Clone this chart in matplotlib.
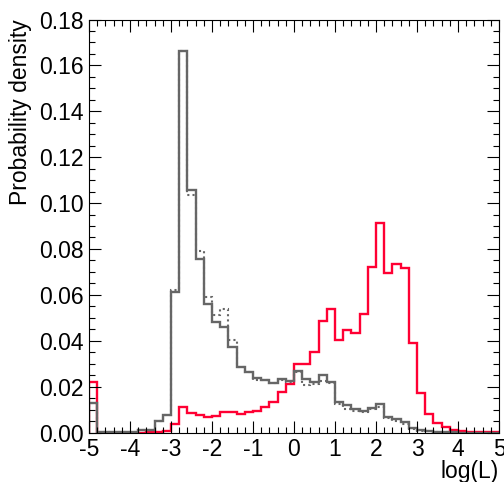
import numpy as np
import matplotlib
matplotlib.use("Agg")
import matplotlib.pyplot as plt
from matplotlib.ticker import MultipleLocator, FormatStrFormatter

plt.rcParams['font.family'] = ['Liberation Sans', 'DejaVu Sans']
plt.rcParams['axes.unicode_minus'] = False

# histogram: 50 bins of width 0.2 between log(L) = -5 and 5
x_min, x_max, n_bins = -5.0, 5.0, 50

# grey solid histogram
grey_solid = [
    0.0127, 0.0002, 0.0002, 0.0002, 0.0002, 0.0003, 0.0010, 0.0011, 0.0049, 0.0078,
    0.0614, 0.1663, 0.1057, 0.0756, 0.0559, 0.0483, 0.0458, 0.0371, 0.0287, 0.0265,
    0.0236, 0.0230, 0.0214, 0.0232, 0.0224, 0.0268, 0.0234, 0.0220, 0.0251, 0.0222,
    0.0134, 0.0120, 0.0101, 0.0094, 0.0105, 0.0124, 0.0066, 0.0057, 0.0047, 0.0021,
    0.0011, 0.0006, 0.0004, 0.0002, 0.0001, 0.0, 0.0, 0.0, 0.0, 0.0,
]

# grey dotted histogram
grey_dotted = [
    0.0127, 0.0002, 0.0002, 0.0002, 0.0002, 0.0003, 0.0010, 0.0011, 0.0049, 0.0078,
    0.0619, 0.1663, 0.1035, 0.0791, 0.0589, 0.0512, 0.0537, 0.0403, 0.0285, 0.0265,
    0.0227, 0.0227, 0.0217, 0.0227, 0.0220, 0.0262, 0.0205, 0.0210, 0.0224, 0.0215,
    0.0124, 0.0101, 0.0095, 0.0091, 0.0101, 0.0113, 0.0062, 0.0052, 0.0035, 0.0015,
    0.0008, 0.0005, 0.0003, 0.0002, 0.0001, 0.0, 0.0, 0.0, 0.0, 0.0,
]

# red histogram
red = [
    0.0221, 0.0, 0.0, 0.0, 0.0, 0.0, 0.0, 0.0002, 0.0004, 0.0005,
    0.0036, 0.0110, 0.0086, 0.0078, 0.0069, 0.0073, 0.0089, 0.0089, 0.0081, 0.0089,
    0.0095, 0.0112, 0.0131, 0.0175, 0.0212, 0.0300, 0.0300, 0.0352, 0.0484, 0.0538,
    0.0403, 0.0447, 0.0432, 0.0517, 0.0720, 0.0915, 0.0697, 0.0733, 0.0719, 0.0392,
    0.0173, 0.0082, 0.0043, 0.0023, 0.0011, 0.0005, 0.0003, 0.0002, 0.0001, 0.0001,
]

edges = np.linspace(x_min, x_max, n_bins + 1)

fig = plt.figure(figsize=(5.04, 4.82), dpi=100)
ax = fig.add_axes([89 / 504, 49.5 / 482, 410 / 504, 413 / 482])

grey = '#666666'
ax.stairs(red, edges, color='#ff0033', lw=1.7)
ax.stairs(grey_dotted, edges, color=grey, lw=1.5, ls=(0, (1, 1.5)))
ax.stairs(grey_solid, edges, color=grey, lw=1.7)

ax.set_xlim(x_min, x_max)
ax.set_ylim(0, 0.18)

ax.xaxis.set_major_locator(MultipleLocator(1))
ax.xaxis.set_minor_locator(MultipleLocator(0.2))
ax.yaxis.set_major_locator(MultipleLocator(0.02))
ax.yaxis.set_minor_locator(MultipleLocator(0.005))
ax.yaxis.set_major_formatter(FormatStrFormatter('%.2f'))
ax.xaxis.set_major_formatter(FormatStrFormatter('%d'))

ax.tick_params(which='both', direction='in', top=True, right=True, width=0.8)
ax.tick_params(which='major', length=8.6)
ax.tick_params(which='minor', length=4.3)
ax.tick_params(axis='y', which='major', labelsize=16.5, pad=4)
ax.tick_params(axis='x', which='major', labelsize=16.5, pad=4)

for sp in ax.spines.values():
    sp.set_linewidth(0.8)

ax.set_ylabel('Probability density', fontsize=16.5, loc='top')
ax.yaxis.set_label_coords(-0.138, 1.0)
ax.set_xlabel('log(L)', fontsize=16.5, loc='right')
ax.xaxis.set_label_coords(1.0, -0.066)

fig.savefig('out.png', dpi=100)
